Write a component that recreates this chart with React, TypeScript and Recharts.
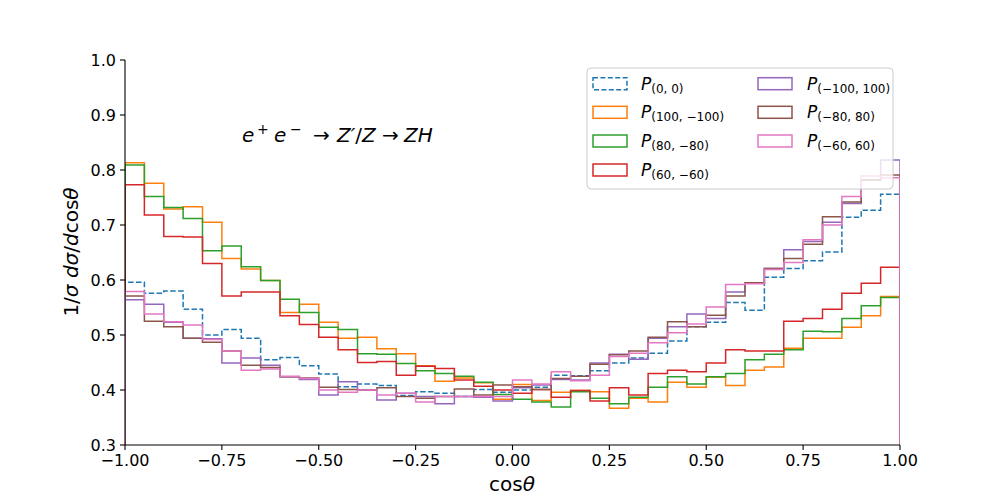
import { Line, LineChart, XAxis, YAxis } from "recharts";

// histogram bins: 40 bins of width 0.05 on cos(theta) in [-1, 1]
const BIN_LO = -1;
const BIN_WIDTH = 0.05;
const Y_FLOOR = 0.3;

const X_TICKS = [-1, -0.75, -0.5, -0.25, 0, 0.25, 0.5, 0.75, 1];
const Y_TICKS = [0.3, 0.4, 0.5, 0.6, 0.7, 0.8, 0.9, 1.0];

const P_0_0 = [
  0.596, 0.576, 0.58, 0.547, 0.5, 0.51, 0.494, 0.455, 0.459, 0.444,
  0.429, 0.406, 0.411, 0.408, 0.39, 0.397, 0.394, 0.388, 0.401, 0.396,
  0.4, 0.405, 0.427, 0.426, 0.435, 0.449, 0.458, 0.467, 0.489, 0.515,
  0.523, 0.559, 0.545, 0.605, 0.621, 0.635, 0.651, 0.714, 0.727, 0.756,
];
const P_100_M100 = [
  0.813, 0.776, 0.729, 0.733, 0.705, 0.639, 0.62, 0.599, 0.541, 0.556,
  0.523, 0.494, 0.496, 0.475, 0.466, 0.444, 0.416, 0.422, 0.413, 0.383,
  0.41, 0.381, 0.396, 0.399, 0.397, 0.367, 0.385, 0.378, 0.414, 0.405,
  0.423, 0.408, 0.436, 0.442, 0.476, 0.494, 0.494, 0.514, 0.535, 0.57,
];
const P_80_M80 = [
  0.809, 0.752, 0.732, 0.712, 0.653, 0.662, 0.624, 0.599, 0.565, 0.541,
  0.514, 0.51, 0.466, 0.465, 0.448, 0.435, 0.43, 0.425, 0.414, 0.392,
  0.383, 0.378, 0.369, 0.397, 0.385, 0.375, 0.387, 0.405, 0.424, 0.411,
  0.424, 0.43, 0.455, 0.465, 0.473, 0.507, 0.506, 0.53, 0.553, 0.568,
];
const P_60_M60 = [
  0.773, 0.718, 0.679, 0.678, 0.63, 0.571, 0.578, 0.578, 0.535, 0.519,
  0.496, 0.473, 0.45, 0.452, 0.427, 0.443, 0.439, 0.418, 0.407, 0.4,
  0.394, 0.401, 0.387, 0.399, 0.38, 0.404, 0.391, 0.43, 0.436, 0.433,
  0.449, 0.473, 0.471, 0.471, 0.525, 0.53, 0.547, 0.576, 0.594, 0.623,
];
const P_M100_100 = [
  0.564, 0.556, 0.523, 0.494, 0.493, 0.449, 0.458, 0.445, 0.424, 0.419,
  0.391, 0.415, 0.4, 0.382, 0.394, 0.388, 0.375, 0.388, 0.387, 0.38,
  0.404, 0.409, 0.419, 0.418, 0.449, 0.465, 0.456, 0.494, 0.515, 0.538,
  0.53, 0.578, 0.594, 0.621, 0.655, 0.67, 0.705, 0.739, 0.782, 0.818,
];
const P_M80_80 = [
  0.571, 0.525, 0.515, 0.494, 0.487, 0.471, 0.445, 0.441, 0.424, 0.422,
  0.405, 0.401, 0.4, 0.404, 0.388, 0.385, 0.388, 0.402, 0.391, 0.409,
  0.406, 0.401, 0.421, 0.425, 0.447, 0.464, 0.471, 0.496, 0.524, 0.515,
  0.536, 0.571, 0.595, 0.621, 0.639, 0.665, 0.715, 0.742, 0.782, 0.791,
];
const P_M60_60 = [
  0.579, 0.538, 0.524, 0.518, 0.492, 0.471, 0.436, 0.438, 0.425, 0.421,
  0.4, 0.396, 0.4, 0.391, 0.394, 0.378, 0.388, 0.388, 0.388, 0.388,
  0.418, 0.411, 0.433, 0.417, 0.427, 0.461, 0.467, 0.486, 0.504, 0.52,
  0.551, 0.592, 0.593, 0.619, 0.632, 0.673, 0.7, 0.752, 0.789, 0.786,
];

const SERIES = [
  { key: "p00", sub: "(0, 0)", color: "#1f77b4", values: P_0_0, dashed: true },
  { key: "p100", sub: "(100, \u2212100)", color: "#ff7f0e", values: P_100_M100 },
  { key: "p80", sub: "(80, \u221280)", color: "#2ca02c", values: P_80_M80 },
  { key: "p60", sub: "(60, \u221260)", color: "#d62728", values: P_60_M60 },
  { key: "m100", sub: "(\u2212100, 100)", color: "#9467bd", values: P_M100_100 },
  { key: "m80", sub: "(\u221280, 80)", color: "#8c564b", values: P_M80_80 },
  { key: "m60", sub: "(\u221260, 60)", color: "#e377c2", values: P_M60_60 },
];

const FONT = "'DejaVu Sans', sans-serif";

// outline of a step histogram, closed down to the floor at both ends
function toSteps(values: number[]) {
  const pts = [{ x: BIN_LO, y: Y_FLOOR }];
  values.forEach((v, i) => pts.push({ x: BIN_LO + i * BIN_WIDTH, y: v }));
  const end = BIN_LO + values.length * BIN_WIDTH;
  pts.push({ x: end, y: values[values.length - 1] });
  pts.push({ x: end, y: Y_FLOOR });
  return pts;
}

const fmt = (v: number, d: number) => v.toFixed(d).replace("-", "\u2212");

function LegendBox() {
  const rows = [83.7, 112.3, 141, 170];
  return (
    <g>
      <rect x={587} y={68} width={306} height={121} rx={4} fill="#fff" fillOpacity={0.8} stroke="#cccccc" />
      {SERIES.map((s, i) => {
        const col = i < 4 ? 0 : 1;
        const cy = rows[col === 0 ? i : i - 4];
        const hx = col === 0 ? 593 : 758;
        const tx = col === 0 ? 641 : 807;
        return (
          <g key={s.key}>
            <rect
              x={hx}
              y={cy - 6}
              width={34}
              height={12}
              fill="none"
              stroke={s.color}
              strokeWidth={1.5}
              strokeDasharray={s.dashed ? "5 2.4" : undefined}
            />
            <text x={tx} y={cy + 6} fontFamily={FONT} fontSize={17} fill="#000">
              <tspan fontStyle="italic">P</tspan>
              <tspan fontSize={12} dy={3}>{s.sub}</tspan>
            </text>
          </g>
        );
      })}
    </g>
  );
}

export default function App() {
  return (
    <div style={{ position: "absolute", left: 0, top: 0, width: 1000, height: 500, background: "#fff" }}>
      <LineChart width={1000} height={500} margin={{ top: 60, right: 100, bottom: 25, left: 65 }}>
        <XAxis
          type="number"
          dataKey="x"
          domain={[-1, 1]}
          ticks={X_TICKS}
          allowDataOverflow
          tickFormatter={(v) => fmt(v, 2)}
          tick={{ fontSize: 16, fill: "#000", fontFamily: FONT }}
          tickSize={5}
          tickMargin={5}
          height={30}
          axisLine={{ stroke: "#000", strokeWidth: 1.1 }}
          tickLine={{ stroke: "#000", strokeWidth: 1.1 }}
        />
        <XAxis
          xAxisId="top"
          orientation="top"
          type="number"
          domain={[-1, 1]}
          height={0}
          tick={false}
          tickLine={false}
          axisLine={{ stroke: "#000", strokeWidth: 1.1 }}
        />
        <YAxis
          type="number"
          domain={[0.3, 1]}
          ticks={Y_TICKS}
          allowDataOverflow
          tickFormatter={(v) => fmt(v, 1)}
          tick={{ fontSize: 16, fill: "#000", fontFamily: FONT }}
          tickSize={5}
          tickMargin={4}
          width={60}
          axisLine={{ stroke: "#000", strokeWidth: 1.1 }}
          tickLine={{ stroke: "#000", strokeWidth: 1.1 }}
        />
        <YAxis
          yAxisId="right"
          orientation="right"
          type="number"
          domain={[0.3, 1]}
          width={0}
          tick={false}
          tickLine={false}
          axisLine={{ stroke: "#000", strokeWidth: 1.1 }}
        />
        {SERIES.map((s) => (
          <Line
            key={s.key}
            data={toSteps(s.values)}
            dataKey="y"
            type="stepAfter"
            stroke={s.color}
            strokeWidth={1.5}
            strokeDasharray={s.dashed ? "5.5 2.4" : undefined}
            dot={false}
            activeDot={false}
            isAnimationActive={false}
          />
        ))}
      </LineChart>

      <svg
        width={1000}
        height={500}
        style={{ position: "absolute", left: 0, top: 0, pointerEvents: "none" }}
      >
        <text y={142} fontFamily={FONT} fontSize={20} fill="#000">
          <tspan x={242} fontStyle="italic">e</tspan>
          <tspan x={257} fontSize={14} dy={-8}>+</tspan>
          <tspan x={274} fontStyle="italic" dy={8}>e</tspan>
          <tspan x={290} fontSize={14} dy={-8}>{"\u2212"}</tspan>
          <tspan x={313} dy={8}>{"\u2192"}</tspan>
          <tspan x={337} fontStyle="italic">{"Z\u2032"}</tspan>
          <tspan>/</tspan>
          <tspan fontStyle="italic">Z</tspan>
          <tspan x={382}>{"\u2192"}</tspan>
          <tspan x={404} fontStyle="italic">ZH</tspan>
        </text>

        <text
          transform="translate(78,252) rotate(-90)"
          textAnchor="middle"
          fontFamily={FONT}
          fontSize={20}
          fill="#000"
        >
          <tspan>1/</tspan>
          <tspan fontStyle="italic">{"\u03c3 d\u03c3"}</tspan>
          <tspan>/</tspan>
          <tspan fontStyle="italic">d</tspan>
          <tspan>cos</tspan>
          <tspan fontStyle="italic">{"\u03b8"}</tspan>
        </text>

        <text x={512} y={491} textAnchor="middle" fontFamily={FONT} fontSize={20} fill="#000">
          <tspan>cos</tspan>
          <tspan fontStyle="italic">{"\u03b8"}</tspan>
        </text>

        <LegendBox />
      </svg>
    </div>
  );
}
